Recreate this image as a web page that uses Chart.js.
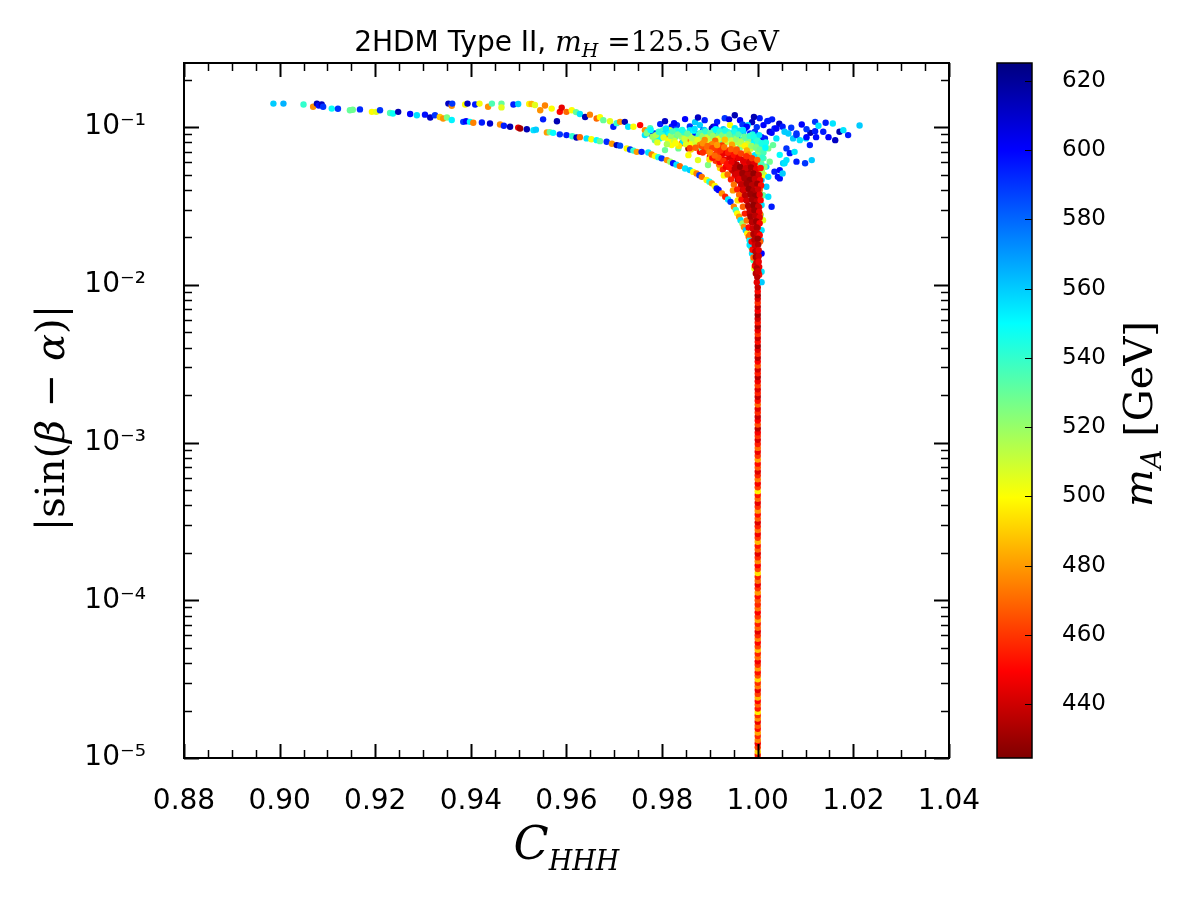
<!DOCTYPE html>
<html>
<head>
<meta charset="utf-8">
<title>2HDM Type II scan</title>
<script src="https://cdn.jsdelivr.net/npm/chart.js@4.4.0/dist/chart.umd.min.js"></script>
<style>
  html, body { margin: 0; padding: 0; background: #fff; }
  #wrap { width: 1200px; height: 900px; }
</style>
</head>
<body>
<div id="wrap"><canvas id="scan" width="1200" height="900"></canvas></div>
<script>
// Scan points: [C_HHH, |sin(beta-alpha)|, m_A in GeV]

// thin lower branch coming in from C_HHH ~ 0.90
const lowerBranch = [
  [0.8987,0.141,560],[0.9008,0.141,565],[0.9050,0.139,540],[0.9070,0.1345,478],[0.9078,0.141,615],
  [0.9082,0.137,598],[0.9088,0.139,612],[0.9091,0.1345,590],[0.9109,0.131,548],[0.9122,0.1307,590],
  [0.9147,0.128,530],[0.9153,0.129,528],[0.9168,0.1295,592],[0.9193,0.125,500],[0.9202,0.125,505],
  [0.9210,0.128,590],[0.9231,0.123,535],[0.9237,0.122,548],[0.9248,0.125,615],[0.9273,0.121,600],
  [0.9287,0.119,556],[0.9304,0.120,598],[0.9315,0.115,612],[0.9325,0.119,590],[0.9335,0.116,490],
  [0.9342,0.1135,478],[0.9350,0.115,525],[0.9360,0.111,552],[0.9384,0.108,590],[0.9390,0.109,600],
  [0.9398,0.108,550],[0.9405,0.1065,475],[0.9423,0.107,595],[0.9440,0.1055,610],[0.9461,0.104,478],
  [0.9469,0.102,595],[0.9482,0.1005,615],[0.9499,0.0993,445],[0.9503,0.098,432],[0.9517,0.097,615],
  [0.9531,0.0957,555],[0.9536,0.0964,560],[0.9559,0.0926,480],[0.9565,0.093,530],[0.9572,0.092,550],
  [0.9586,0.090,590],[0.9600,0.089,595],[0.9612,0.0875,540],[0.9621,0.086,615],[0.9628,0.0864,470],
  [0.9642,0.0848,555],[0.9652,0.0838,500],[0.9663,0.0827,550],[0.9670,0.0815,530],[0.9684,0.0807,592],
  [0.9695,0.0785,480],[0.9705,0.0769,612],[0.9712,0.0763,585],[0.9726,0.0733,500],[0.9733,0.0722,590],
  [0.9740,0.071,540],[0.9747,0.0697,480],[0.9757,0.0697,595],[0.9771,0.0691,555],[0.9778,0.067,475],
  [0.9785,0.0655,500],[0.9792,0.0645,545],[0.9799,0.0634,590],[0.9810,0.0618,478],[0.9817,0.0603,520],
  [0.9823,0.059,598],[0.9830,0.0578,555],[0.9837,0.0566,470],[0.9848,0.0547,555],[0.9858,0.0534,560],
  [0.9865,0.052,500],[0.9872,0.0509,475],[0.9878,0.0496,590],[0.9883,0.0484,472],[0.9893,0.0462,498],
  [0.9899,0.045,545],[0.9904,0.044,480],[0.9910,0.0424,500],[0.9914,0.0408,595],[0.9918,0.0399,600],
  [0.9925,0.038,478],[0.9932,0.0362,455],[0.9938,0.0348,555],[0.9943,0.0336,590],[0.9950,0.0313,475],
  [0.9954,0.0298,540],[0.9957,0.0284,500],[0.9961,0.027,480],[0.9964,0.0257,555],[0.9968,0.0245,520],
  [0.9971,0.0233,478],[0.9975,0.0222,560],[0.9978,0.0212,498],[0.9981,0.0202,470],[0.9983,0.0192,552],
  [0.9986,0.0174,530],[0.9988,0.0158,555],[0.9991,0.0143,535],[0.9993,0.0127,505]
];

// upper branch starting near C_HHH ~ 0.935
const upperBranch = [
  [0.9353,0.141,612],[0.9360,0.1365,478],[0.9361,0.141,590],[0.9388,0.139,500],[0.9393,0.141,612],
  [0.9409,0.139,595],[0.9418,0.141,502],[0.9436,0.1345,478],[0.9444,0.141,535],[0.9464,0.141,530],
  [0.9464,0.1334,505],[0.9489,0.139,595],[0.9499,0.140,560],[0.9522,0.140,498],[0.9527,0.140,485],
  [0.9534,0.138,505],[0.9545,0.128,478],[0.9551,0.112,595],[0.9555,0.137,475],[0.9569,0.131,500],
  [0.9580,0.109,615],[0.9586,0.125,450],[0.9590,0.1326,445],[0.9600,0.125,470],[0.9611,0.128,500],
  [0.9620,0.1245,530],[0.9628,0.121,555],[0.9639,0.116,615],[0.9649,0.120,475],[0.9663,0.1135,470],
  [0.9670,0.1157,500],[0.9677,0.1107,530],[0.9691,0.109,505],[0.9698,0.1005,595],[0.9705,0.106,540],
  [0.9712,0.108,478],[0.9722,0.108,615],[0.9729,0.1005,555],[0.9740,0.1005,500],[0.9754,0.103,450],
  [0.9764,0.0957,478],[0.9775,0.0912,595],[0.9789,0.0877,615],[0.9802,0.0868,475],[0.9810,0.089,472],
  [0.9841,0.0791,478],[0.9855,0.0733,430],[0.9879,0.0697,450],[0.9900,0.0649,448]
];

// diffuse cloud on top of the funnel
const cloud = [
  [0.9796,0.1045,595],[0.9806,0.1091,612],[0.9820,0.1005,595],[0.9831,0.103,590],[0.9848,0.1124,600],
  [0.9869,0.1075,560],[0.9889,0.1107,595],[0.9931,0.114,590],[0.9952,0.119,615],[0.9963,0.1107,600],
  [0.9988,0.1075,612],[1.0004,0.114,595],[0.9979,0.103,555],[0.9998,0.100,590],
  [0.9825,0.1060,600],[0.9858,0.1010,590],[0.9875,0.1150,612],[0.9915,0.1080,595],[0.9940,0.1120,605],
  [0.9968,0.1040,590],[0.9992,0.1160,615],[1.0012,0.1030,600],[1.0030,0.1120,595],[1.0045,0.1050,612],
  [1.0070,0.0990,590],[1.0092,0.1040,600],[1.0110,0.0920,615],
  [0.9775,0.0985,535],[0.9764,0.089,555],[0.9785,0.0912,590],[0.9785,0.0827,530],[0.9795,0.0848,550],
  [0.9802,0.0957,535],[0.9806,0.0912,555],[0.9816,0.0957,505],[0.9813,0.0827,500],[0.9806,0.0715,530],
  [0.9820,0.0769,500],[0.9827,0.0864,530],[0.9834,0.0733,528],[0.9837,0.0912,555],[0.9844,0.0807,555],
  [0.9851,0.0864,530],[0.9855,0.0827,475],[0.9855,0.0664,500],[0.9858,0.0957,555],[0.9862,0.0791,500],
  [0.9865,0.0827,500],[0.9869,0.0912,595],[0.9872,0.0848,528],[0.9875,0.0618,505],[0.9879,0.103,560],
  [0.9883,0.0733,525],[0.9886,0.0934,555],[0.9886,0.0957,590],[0.9889,0.0827,528],[0.9896,0.0575,525],
  [0.9897,0.0864,590],[0.9900,0.0769,500],[0.9904,0.0981,615],[0.9904,0.0912,535],[0.9904,0.0769,498],
  [0.9907,0.1005,612],[0.9911,0.1005,600],[0.9911,0.0934,600],[0.9914,0.0864,560],[0.9916,0.0957,555],
  [0.9921,0.0807,530],[0.9921,0.055,495],[0.9925,0.0736,505],[0.9931,0.0618,500],[0.9935,0.0715,505],
  [0.9937,0.0852,530],[0.9942,0.103,500],[0.9942,0.0912,555],[0.9949,0.0912,595],[0.9949,0.0791,530],
  [0.9952,0.0985,555],[0.9952,0.0534,498],[0.9956,0.0864,590],[0.9958,0.0694,528],[0.9963,0.0743,525],
  [0.9966,0.0827,555],[0.9970,0.0934,560],[0.9973,0.0981,595],[0.9973,0.0575,505],[0.9977,0.1005,600],
  [0.9979,0.0715,535],[0.9984,0.0912,595],[0.9988,0.0852,560],[0.9988,0.0534,500],[0.9991,0.0791,550],
  [0.9994,0.0934,590],[0.9994,0.0664,555],[1.0000,0.0769,530],[1.0000,0.0497,530],[1.0004,0.0575,555],
  [1.0004,0.0399,530],[1.0006,0.0277,530],[1.0006,0.0192,560],[1.0008,0.0864,600],[1.0008,0.0462,560],
  [1.0008,0.0321,555],[1.0008,0.0222,555],[1.0008,0.0121,555],[1.0008,0.0104,560],[1.0008,0.0158,600],
  [0.9983,0.0179,555],[1.0011,0.037,528],[1.0011,0.0257,505],[1.0012,0.0634,530],[1.0013,0.0497,500],
  [1.0015,0.0848,595],[1.0018,0.0562,555],[1.0018,0.0419,560],[1.0020,0.1091,595],[1.0022,0.1096,595],
  [1.0022,0.0733,525],[1.0022,0.0484,555],[1.0022,0.0362,555],[1.0025,0.0934,612],[1.0025,0.0604,528],
  [1.0029,0.092,600],[1.0029,0.0313,595],[1.0032,0.0769,530],[1.0035,0.0981,595],[1.0035,0.0522,595],
  [1.0039,0.0981,600],[1.0039,0.0848,555],[1.0042,0.0484,598],[1.0046,0.0667,550],[1.0046,0.0534,600],
  [1.0046,0.0473,598],[1.0052,0.1005,595],[1.0052,0.0509,560],[1.0053,0.059,560],[1.0056,0.0934,560],
  [1.0056,0.059,555],[1.0060,0.0733,590],[1.0060,0.0618,555],[1.0064,0.0912,560],[1.0067,0.0684,595],
  [1.0074,0.0848,560],[1.0077,0.0697,555],[1.0081,0.0912,590],[1.0081,0.089,590],[1.0081,0.0604,595],
  [1.0088,0.0827,555],[1.0099,0.059,590],[1.0101,0.0848,555],[1.0102,0.0971,590],[1.0102,0.0864,600],
  [1.0109,0.0769,595],[1.0113,0.0618,560],[1.0120,0.108,590],[1.0120,0.0943,595],[1.0122,0.0864,598],
  [1.0127,0.102,555],[1.0137,0.0934,595],[1.0142,0.1065,595],[1.0148,0.0864,600],[1.0157,0.1055,555],
  [1.0162,0.0827,612],[1.0171,0.0934,615],[1.0179,0.0957,555],[1.0189,0.089,595],[1.0213,0.1025,560]
];

// greenish-yellow body of the cloud
const cloudBody = [
  [0.9770,0.0940,545],[0.9780,0.0870,520],[0.9790,0.0800,505],[0.9800,0.0890,540],[0.9810,0.0780,515],
  [0.9815,0.0920,550],[0.9825,0.0820,510],[0.9830,0.0950,545],[0.9835,0.0760,495],[0.9840,0.0870,520],
  [0.9845,0.0930,540],[0.9850,0.0780,505],[0.9857,0.0880,515],[0.9860,0.0720,490],[0.9866,0.0950,550],
  [0.9870,0.0800,510],[0.9877,0.0900,540],[0.9882,0.0860,520],[0.9888,0.0960,560],[0.9893,0.0800,505],
  [0.9898,0.0900,525],[0.9902,0.0850,515],[0.9908,0.0950,545],[0.9913,0.0790,500],[0.9918,0.0900,530],
  [0.9923,0.0860,520],[0.9928,0.0970,560],[0.9933,0.0800,510],[0.9938,0.0930,540],[0.9943,0.0850,520],
  [0.9948,0.0740,500],[0.9953,0.0880,535],[0.9958,0.0800,515],[0.9962,0.0950,555],[0.9967,0.0780,505],
  [0.9972,0.0870,530],[0.9976,0.0660,495],[0.9980,0.0830,525],[0.9985,0.0730,510],[0.9989,0.0900,545],
  [0.9993,0.0620,505],[0.9997,0.0840,540],[1.0001,0.0700,520],[1.0005,0.0650,530],[1.0003,0.0890,555],
  [1.0010,0.0750,540],[1.0014,0.0560,520],[1.0017,0.0800,545],[1.0009,0.0520,515],[1.0006,0.0430,525],
  [0.9768,0.0915,525],[0.9776,0.0960,550],[0.9787,0.0890,515],[0.9793,0.0935,540],[0.9803,0.0860,505],
  [0.9808,0.0980,555],[0.9818,0.0880,520],[0.9822,0.0940,535],[0.9828,0.0790,500],[0.9833,0.0900,525],
  [0.9842,0.0960,545],[0.9847,0.0840,510],[0.9853,0.0910,530],[0.9862,0.0850,515],[0.9868,0.0975,555],
  [0.9874,0.0830,505],[0.9880,0.0920,535],[0.9885,0.0880,520],[0.9891,0.0940,540],[0.9895,0.0860,510],
  [0.9901,0.0920,530],[0.9906,0.0880,520],[0.9912,0.0970,550],[0.9917,0.0840,505],[0.9921,0.0940,540],
  [0.9926,0.0890,525],[0.9932,0.0950,545],[0.9936,0.0870,520],[0.9941,0.0900,530],[0.9946,0.0820,510],
  [0.9951,0.0940,545],[0.9955,0.0840,520],[0.9960,0.0900,535],[0.9965,0.0810,515],[0.9969,0.0960,555],
  [0.9974,0.0860,530],[0.9978,0.0780,510],[0.9983,0.0880,540],[0.9987,0.0760,520],[0.9991,0.0870,545],
  [0.9996,0.0740,525],[1.0000,0.0820,540],[1.0004,0.0720,530],[1.0008,0.0790,545],[1.0012,0.0690,535],
  [1.0016,0.0740,550],[1.0006,0.0610,525],[1.0010,0.0640,540],[1.0003,0.0550,520],[1.0008,0.0580,535]
];

// low-m_A funnel converging on C_HHH = 1
const funnel = [
  [0.9858,0.0736,462],[0.9879,0.0772,475],[0.9889,0.0712,458],[0.9910,0.0668,452],
  [0.9889,0.0830,478],[0.9911,0.0821,470],[0.9931,0.0833,488],
  [0.9883,0.0760,465],[0.9904,0.0778,476],[0.9925,0.0764,460],[0.9946,0.0774,482],[0.9973,0.0760,498],
  [0.9893,0.0709,470],[0.9914,0.0720,462],[0.9935,0.0707,450],[0.9956,0.0722,466],[0.9977,0.0712,485],
  [0.9902,0.0670,472],[0.9923,0.0657,455],[0.9940,0.0668,446],[0.9961,0.0659,456],[0.9981,0.0671,478],
  [0.9899,0.0624,495],[0.9912,0.0612,460],[0.9931,0.0622,445],[0.9950,0.0613,448],[0.9969,0.0621,440],[0.9987,0.0615,472],
  [0.9919,0.0579,474],[0.9937,0.0570,452],[0.9956,0.0580,436],[0.9973,0.0571,448],[0.9994,0.0578,478],
  [0.9927,0.0538,456],[0.9946,0.0530,440],[0.9963,0.0537,444],[0.9980,0.0531,432],[0.9998,0.0536,458],
  [0.9929,0.0494,500],[0.9937,0.0501,470],[0.9952,0.0493,446],[0.9967,0.0499,433],[0.9982,0.0494,450],[1.0001,0.0500,478],
  [0.9944,0.0466,455],[0.9958,0.0459,435],[0.9973,0.0465,443],[0.9988,0.0458,430],[1.0003,0.0464,470],
  [0.9950,0.0432,472],[0.9965,0.0426,447],[0.9977,0.0431,436],[0.9990,0.0426,445],
  [0.9948,0.0397,480],[0.9957,0.0402,455],[0.9969,0.0396,433],[0.9981,0.0401,440],[0.9994,0.0397,432],[1.0004,0.0401,470],
  [0.9961,0.0372,470],[0.9973,0.0368,445],[0.9984,0.0373,430],[0.9998,0.0368,448],
  [0.9958,0.0343,495],[0.9966,0.0347,452],[0.9977,0.0343,434],[0.9988,0.0346,442],[1.0000,0.0343,436],
  [0.9969,0.0313,468],[0.9982,0.0309,446],[0.9992,0.0313,432],[1.0003,0.0310,450],
  [0.9973,0.0283,455],[0.9984,0.0279,435],[0.9994,0.0283,444],[1.0005,0.0280,470],
  [0.9977,0.0256,472],[0.9988,0.0252,432],[0.9998,0.0255,448],
  [0.9981,0.0231,450],[0.9990,0.0228,436],[1.0000,0.0231,445],
  [0.9984,0.0208,470],[0.9994,0.0206,433],[1.0003,0.0209,452],
  [0.9987,0.0188,448],[0.9996,0.0186,436],[1.0005,0.0188,468],
  [0.9989,0.0167,452],[0.9998,0.0165,434],
  [0.9991,0.0149,470],[1.0000,0.0147,438],
  [0.9994,0.0132,448],[1.0003,0.0130,445],
  [0.9996,0.0118,436],[1.0003,0.0116,452],
  [0.9998,0.0104,445],
  [0.9870,0.0740,468],[0.9885,0.0690,458],[0.9895,0.0745,472],[0.9905,0.0640,452],[0.9917,0.0700,460],
  [0.9920,0.0600,450],[0.9928,0.0680,446],[0.9933,0.0560,448],[0.9942,0.0640,442],[0.9945,0.0700,458],
  [0.9948,0.0590,436],[0.9953,0.0510,440],[0.9959,0.0640,438],[0.9962,0.0555,438],[0.9966,0.0480,432],
  [0.9970,0.0600,446],[0.9975,0.0520,430],[0.9978,0.0445,438],[0.9979,0.0640,455],[0.9984,0.0560,436],
  [0.9986,0.0480,433],[0.9986,0.0410,440],[0.9990,0.0590,448],[0.9992,0.0515,436],[0.9993,0.0380,431],
  [0.9995,0.0450,440],[0.9996,0.0330,434],[0.9997,0.0290,438],[0.9999,0.0410,446],[0.9999,0.0240,432]
];

// orange-red top of the funnel
const funnelTop = [
  [0.9885,0.0790,478],[0.9895,0.0760,470],[0.9905,0.0735,462],[0.9915,0.0770,480],[0.9922,0.0710,458],
  [0.9930,0.0745,472],[0.9938,0.0690,455],[0.9944,0.0725,468],[0.9950,0.0665,452],[0.9955,0.0700,466],
  [0.9960,0.0640,446],[0.9965,0.0680,462],[0.9970,0.0615,444],[0.9976,0.0655,458],[0.9982,0.0600,440],
  [0.9988,0.0635,460],[0.9993,0.0585,444],[0.9999,0.0620,470],[0.9918,0.0640,468],[0.9928,0.0610,460],
  [0.9936,0.0585,452],[0.9945,0.0600,446],[0.9941,0.0555,452],[0.9900,0.0690,476],[0.9910,0.0660,470]
];

// dark-red neck of the funnel
const funnelCore = [
  [0.9952,0.0545,436],[0.9963,0.0560,428],[0.9975,0.0548,440],[0.9986,0.0556,432],[0.9997,0.0542,445],[1.0006,0.0551,452],
  [0.9956,0.0505,442],[0.9968,0.0512,430],[0.9979,0.0500,436],[0.9991,0.0509,428],[1.0002,0.0497,440],
  [0.9961,0.0468,446],[0.9972,0.0475,432],[0.9983,0.0463,428],[0.9994,0.0470,438],[1.0005,0.0461,448],
  [0.9966,0.0434,438],[0.9977,0.0440,430],[0.9988,0.0429,436],[0.9999,0.0437,430],[1.0007,0.0426,452],
  [0.9970,0.0400,442],[0.9981,0.0406,428],[0.9991,0.0395,434],[1.0001,0.0403,440],
  [0.9974,0.0370,436],[0.9985,0.0376,430],[0.9995,0.0366,428],[1.0004,0.0373,446],
  [0.9977,0.0342,440],[0.9988,0.0347,432],[0.9998,0.0339,436],[1.0006,0.0344,450],
  [0.9980,0.0317,434],[0.9991,0.0321,428],[1.0001,0.0314,440],
  [0.9983,0.0292,438],[0.9993,0.0296,430],[1.0003,0.0290,446],
  [0.9985,0.0270,432],[0.9995,0.0273,436],[1.0004,0.0267,444],
  [0.9988,0.0249,436],[0.9997,0.0252,430],[1.0004,0.0246,448],
  [0.9990,0.0228,440],[0.9998,0.0231,432],
  [0.9991,0.0210,434],[0.9999,0.0213,438],[1.0004,0.0206,450],
  [0.9993,0.0193,436],[1.0000,0.0196,430],
  [0.9994,0.0178,440],[1.0001,0.0180,434],
  [0.9995,0.0163,436],[1.0002,0.0166,444],
  [0.9996,0.0150,432],[1.0002,0.0152,440],
  [0.9997,0.0138,438],[1.0002,0.0140,446],
  [0.9998,0.0127,434],[1.0001,0.0122,440],[0.9999,0.0112,436]
];

// points sitting on C_HHH = 1: [|sin(beta-alpha)|, m_A]
const stemC = 1.0;
const stem = [
  [1.0e-5,470],[1.05e-5,455],[1.1e-5,490],[1.17e-5,462],[1.24e-5,448],[1.3e-5,475],[1.38e-5,458],
  [1.45e-5,482],[1.53e-5,452],[1.6e-5,468],[1.7e-5,446],[1.78e-5,478],[1.87e-5,460],[1.96e-5,497],
  [2.06e-5,455],[2.18e-5,470],[2.3e-5,450],[2.42e-5,485],[2.55e-5,462],[2.7e-5,445],[2.85e-5,474],
  [3.0e-5,458],[3.16e-5,492],[3.33e-5,466],[3.5e-5,452],[3.7e-5,480],[3.9e-5,460],[4.1e-5,447],
  [4.35e-5,472],[4.6e-5,456],[4.85e-5,488],[5.1e-5,463],[5.4e-5,450],[5.7e-5,476],[6.0e-5,458],
  [6.35e-5,444],[6.7e-5,470],[7.1e-5,455],[7.5e-5,483],[7.9e-5,461],[8.4e-5,449],[8.9e-5,473],
  [9.4e-5,457],
  [1.0e-4,466],[1.06e-4,452],[1.12e-4,480],[1.19e-4,460],[1.26e-4,446],[1.33e-4,471],[1.41e-4,456],
  [1.49e-4,494],[1.58e-4,463],[1.67e-4,449],[1.77e-4,477],[1.87e-4,458],[1.98e-4,444],[2.1e-4,469],
  [2.22e-4,454],[2.35e-4,486],[2.49e-4,461],[2.63e-4,447],[2.79e-4,473],[2.95e-4,456],[3.12e-4,443],
  [3.3e-4,468],[3.5e-4,452],[3.7e-4,479],[3.92e-4,459],[4.15e-4,445],[4.4e-4,470],[4.65e-4,454],
  [4.92e-4,498],[5.2e-4,462],[5.5e-4,448],[5.85e-4,474],[6.2e-4,457],[6.55e-4,443],[6.95e-4,467],
  [7.35e-4,451],[7.8e-4,481],[8.25e-4,460],[8.75e-4,446],[9.25e-4,471],[9.8e-4,455],
  [1.04e-3,442],[1.1e-3,460],[1.16e-3,448],[1.23e-3,436],[1.3e-3,465],[1.38e-3,450],[1.46e-3,438],
  [1.55e-3,458],[1.64e-3,444],[1.74e-3,470],[1.84e-3,452],[1.95e-3,437],[2.06e-3,456],[2.18e-3,443],
  [2.31e-3,462],[2.45e-3,447],[2.6e-3,434],[2.75e-3,455],[2.91e-3,441],[3.08e-3,466],[3.26e-3,449],
  [3.45e-3,436],[3.66e-3,457],[3.87e-3,444],[4.1e-3,432],[4.35e-3,452],[4.6e-3,439],[4.87e-3,460],
  [5.15e-3,446],[5.45e-3,433],[5.78e-3,454],[6.1e-3,440],[6.47e-3,431],[6.85e-3,449],[7.25e-3,437],
  [7.7e-3,458],[8.15e-3,443],[8.6e-3,432],[9.1e-3,451],[9.65e-3,438]
];

// axes
const xTickValues = [0.88, 0.90, 0.92, 0.94, 0.96, 0.98, 1.00, 1.02, 1.04];
const xTickLabels = ['0.88','0.90','0.92','0.94','0.96','0.98','1.00','1.02','1.04'];
const yTickValues = [1e-5, 1e-4, 1e-3, 1e-2, 1e-1];
const yTickLabels = ['10\u207B\u2075','10\u207B\u2074','10\u207B\u00B3','10\u207B\u00B2','10\u207B\u00B9'];
const mARange = [424.4, 625.2];
const cbTicks = [440, 460, 480, 500, 520, 540, 560, 580, 600, 620];

function jet(t) {
  const c = v => Math.round(255 * Math.max(0, Math.min(1, v)));
  return 'rgb(' + c(1.5 - Math.abs(4 * t - 3)) + ',' + c(1.5 - Math.abs(4 * t - 2)) + ',' + c(1.5 - Math.abs(4 * t - 1)) + ')';
}
// reversed jet: low m_A dark red, high m_A dark blue
function mAColor(m) {
  return jet(1 - (m - mARange[0]) / (mARange[1] - mARange[0]));
}

const points = [];
stem.forEach(p => points.push({ x: stemC, y: p[0], m: p[1] }));
[lowerBranch, upperBranch, cloud, cloudBody, funnel, funnelTop, funnelCore].forEach(group => {
  group.forEach(p => points.push({ x: p[0], y: p[1], m: p[2] }));
});

// draws a row of text pieces (mixed fonts) centred on (x, y)
function drawRuns(ctx, runs, x, y, angle) {
  ctx.save();
  ctx.translate(x, y);
  ctx.rotate(angle || 0);
  let total = 0;
  runs.forEach(r => { ctx.font = r.font; r.w = ctx.measureText(r.text).width; total += r.w; });
  let cx = -total / 2;
  ctx.fillStyle = '#000';
  ctx.textAlign = 'left';
  ctx.textBaseline = 'alphabetic';
  runs.forEach(r => { ctx.font = r.font; ctx.fillText(r.text, cx, r.dy || 0); cx += r.w; });
  ctx.restore();
}

const decor = {
  id: 'decor',
  beforeDraw(chart) {
    const ctx = chart.ctx;
    ctx.save();
    ctx.fillStyle = '#fff';
    ctx.fillRect(0, 0, chart.width, chart.height);
    ctx.restore();
  },
  afterDraw(chart) {
    const ctx = chart.ctx;
    const a = chart.chartArea;
    const xs = chart.scales.x, ys = chart.scales.y, cb = chart.scales.cb;
    ctx.save();
    ctx.strokeStyle = '#000';

    // inward ticks, all four sides
    const line = (x1, y1, x2, y2, w) => {
      ctx.lineWidth = w;
      ctx.beginPath(); ctx.moveTo(x1, y1); ctx.lineTo(x2, y2); ctx.stroke();
    };
    for (let i = 0; i <= 32; i++) {
      const px = Math.round(xs.getPixelForValue(0.88 + i * 0.005)) + 0.5;
      const major = i % 4 === 0;
      const len = major ? 14 : 8;
      const w = major ? 2 : 1.5;
      line(px, a.bottom, px, a.bottom - len, w);
      line(px, a.top, px, a.top + len, w);
    }
    for (let e = -5; e <= -1; e++) {
      for (let k = 1; k <= 9; k++) {
        const v = k * Math.pow(10, e);
        if (v > ys.max) break;
        const py = Math.round(ys.getPixelForValue(v)) + 0.5;
        const len = k === 1 ? 15 : 8;
        const w = k === 1 ? 2 : 1.5;
        line(a.left, py, a.left + len, py, w);
        line(a.right, py, a.right - len, py, w);
      }
    }

    // frame
    ctx.lineWidth = 2;
    ctx.strokeRect(a.left, a.top, a.right - a.left, a.bottom - a.top);

    // colour bar
    const cbL = a.right + 48, cbW = 35;
    const cbTop = cb.getPixelForValue(mARange[1]);
    const cbBot = cb.getPixelForValue(mARange[0]);
    const g = ctx.createLinearGradient(0, cbBot, 0, cbTop);
    for (let i = 0; i <= 64; i++) g.addColorStop(i / 64, jet(1 - i / 64));
    ctx.fillStyle = g;
    ctx.fillRect(cbL, cbTop, cbW, cbBot - cbTop);
    ctx.lineWidth = 1.5;
    ctx.strokeRect(cbL, cbTop, cbW, cbBot - cbTop);
    cbTicks.forEach(v => {
      const py = Math.round(cb.getPixelForValue(v)) + 0.5;
      line(cbL + cbW, py, cbL + cbW - 7, py, 1);
    });
    ctx.restore();

    // texts
    const cxPlot = (a.left + a.right) / 2;
    drawRuns(ctx, [
      { text: '2HDM Type II, ', font: '28px "DejaVu Sans"' },
      { text: 'm', font: 'italic 28px "DejaVu Serif"' },
      { text: 'H', font: 'italic 19px "DejaVu Serif"', dy: 6 },
      { text: ' =125.5 GeV', font: '28px "DejaVu Serif"' }
    ], cxPlot, 51);
    drawRuns(ctx, [
      { text: 'C', font: 'italic 46px "DejaVu Serif"' },
      { text: 'HHH', font: 'italic 27px "DejaVu Serif"', dy: 11 }
    ], cxPlot, 859);
    drawRuns(ctx, [
      { text: '|sin(', font: '40px "DejaVu Serif"' },
      { text: '\u03B2', font: 'italic 40px "DejaVu Serif"' },
      { text: ' \u2212 ', font: '40px "DejaVu Serif"' },
      { text: '\u03B1', font: 'italic 40px "DejaVu Serif"' },
      { text: ')|', font: '40px "DejaVu Serif"' }
    ], 64, 418, -Math.PI / 2);
    drawRuns(ctx, [
      { text: 'm', font: 'italic 40px "DejaVu Serif"' },
      { text: 'A', font: 'italic 27px "DejaVu Serif"', dy: 9 },
      { text: ' [GeV]', font: '40px "DejaVu Serif"' }
    ], 1152, 414, -Math.PI / 2);
  }
};

const tickFont = { family: 'DejaVu Sans', size: 28 };
// invisible tick marks only used to push labels away from the frame
// (ticks.padding would also inflate the layout's top/bottom padding)
const spacer = len => ({ display: true, drawOnChartArea: false, drawTicks: true, tickLength: len, color: 'rgba(0,0,0,0)' });

new Chart(document.getElementById('scan').getContext('2d'), {
  type: 'scatter',
  data: {
    datasets: [{
      data: points,
      pointBackgroundColor: points.map(p => mAColor(p.m)),
      pointBorderWidth: 0,
      pointRadius: 3.2,
      pointHoverRadius: 3.2
    }]
  },
  options: {
    responsive: false,
    animation: false,
    devicePixelRatio: 1,
    layout: { padding: { top: 63, left: 0, right: 0, bottom: 0 } },
    plugins: {
      legend: { display: false },
      tooltip: { enabled: false },
      title: { display: false }
    },
    scales: {
      x: {
        type: 'linear',
        position: 'bottom',
        min: 0.88,
        max: 1.04,
        afterFit: s => { s.height = 142; },
        afterBuildTicks: s => { s.ticks = xTickValues.map(v => ({ value: v })); },
        grid: spacer(27),
        border: { display: false },
        ticks: {
          autoSkip: false,
          maxRotation: 0,
          minRotation: 0,
          padding: 0,
          color: '#000',
          font: tickFont,
          callback: (v, i) => xTickLabels[i]
        }
      },
      y: {
        type: 'logarithmic',
        position: 'left',
        min: 1e-5,
        max: 0.255,
        afterFit: s => { s.width = 184; },
        afterBuildTicks: s => { s.ticks = yTickValues.map(v => ({ value: v })); },
        grid: spacer(38),
        border: { display: false },
        ticks: {
          autoSkip: false,
          padding: 0,
          color: '#000',
          font: tickFont,
          callback: (v, i) => yTickLabels[i]
        }
      },
      cb: {
        type: 'linear',
        position: 'right',
        min: mARange[0],
        max: mARange[1],
        afterFit: s => { s.width = 251; },
        afterBuildTicks: s => { s.ticks = cbTicks.map(v => ({ value: v })); },
        grid: spacer(113),
        border: { display: false },
        ticks: {
          autoSkip: false,
          padding: 0,
          color: '#000',
          font: { family: 'DejaVu Sans', size: 23 },
          callback: v => String(v)
        }
      }
    }
  },
  plugins: [decor]
});
</script>
</body>
</html>
